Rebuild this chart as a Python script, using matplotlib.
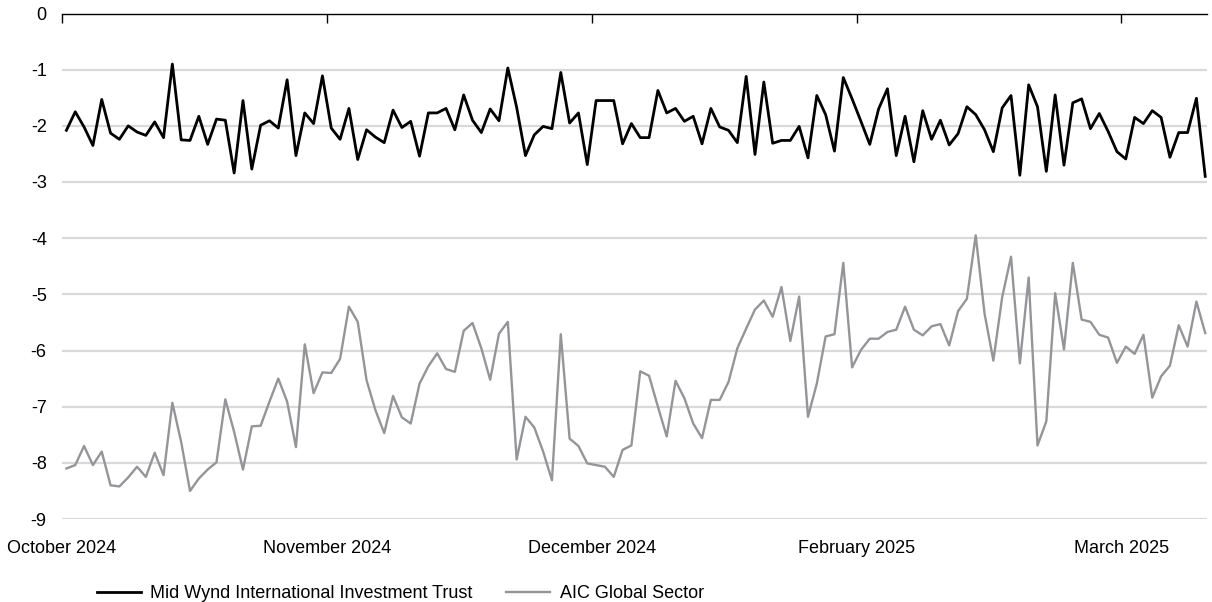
import matplotlib
matplotlib.use("Agg")
import matplotlib.pyplot as plt
import numpy as np

plt.rcParams['font.family'] = ['Liberation Sans', 'DejaVu Sans']
plt.rcParams['axes.unicode_minus'] = False

# discount values
mid_wynd = [
    -2.08, -1.75, -2.02, -2.35, -1.53, -2.13, -2.24, -2.00, -2.11, -2.17,
    -1.93, -2.21, -0.90, -2.25, -2.26, -1.83, -2.33, -1.88, -1.90, -2.84,
    -1.55, -2.77, -1.99, -1.91, -2.04, -1.18, -2.53, -1.77, -1.96, -1.11,
    -2.04, -2.24, -1.69, -2.60, -2.07, -2.20, -2.30, -1.72, -2.03, -1.92,
    -2.54, -1.77, -1.77, -1.69, -2.07, -1.45, -1.90, -2.12, -1.70, -1.91,
    -0.97, -1.67, -2.53, -2.16, -2.01, -2.05, -1.05, -1.95, -1.77, -2.69,
    -1.55, -1.55, -1.55, -2.32, -1.96, -2.21, -2.21, -1.37, -1.77, -1.69,
    -1.92, -1.83, -2.32, -1.69, -2.02, -2.08, -2.30, -1.12, -2.51, -1.22,
    -2.31, -2.26, -2.26, -2.01, -2.57, -1.46, -1.80, -2.45, -1.14, -1.52,
    -1.92, -2.33, -1.70, -1.34, -2.53, -1.83, -2.64, -1.73, -2.24, -1.90,
    -2.34, -2.14, -1.66, -1.80, -2.07, -2.46, -1.68, -1.46, -2.88, -1.27,
    -1.66, -2.81, -1.45, -2.70, -1.59, -1.52, -2.05, -1.78, -2.10, -2.46,
    -2.59, -1.85, -1.96, -1.73, -1.85, -2.56, -2.12, -2.12, -1.51, -2.90,
]
aic_global = [
    -8.10, -8.04, -7.70, -8.04, -7.80, -8.40, -8.42, -8.26, -8.07, -8.25,
    -7.82, -8.22, -6.93, -7.63, -8.50, -8.28, -8.12, -7.99, -6.87, -7.45,
    -8.12, -7.35, -7.34, -6.91, -6.50, -6.91, -7.72, -5.89, -6.76, -6.39,
    -6.40, -6.15, -5.22, -5.49, -6.53, -7.06, -7.47, -6.81, -7.19, -7.30,
    -6.59, -6.28, -6.05, -6.33, -6.38, -5.65, -5.51, -5.96, -6.52, -5.70,
    -5.49, -7.94, -7.18, -7.37, -7.80, -8.31, -5.71, -7.57, -7.70, -8.01,
    -8.04, -8.07, -8.25, -7.77, -7.69, -6.37, -6.45, -7.00, -7.53, -6.54,
    -6.85, -7.30, -7.56, -6.88, -6.88, -6.56, -5.96, -5.61, -5.27, -5.11,
    -5.40, -4.87, -5.83, -5.04, -7.18, -6.59, -5.75, -5.71, -4.44, -6.30,
    -5.99, -5.79, -5.79, -5.67, -5.63, -5.22, -5.63, -5.73, -5.57, -5.53,
    -5.91, -5.30, -5.08, -3.95, -5.34, -6.18, -5.05, -4.33, -6.23, -4.70,
    -7.69, -7.26, -4.98, -5.98, -4.44, -5.45, -5.49, -5.72, -5.77, -6.22,
    -5.93, -6.06, -5.72, -6.84, -6.46, -6.27, -5.55, -5.93, -5.13, -5.69,
]
month_labels = ['October 2024', 'November 2024', 'December 2024',
                'February 2025', 'March 2025']
series_names = ['Mid Wynd International Investment Trust', 'AIC Global Sector']

fig = plt.figure(figsize=(12.12, 6.02), dpi=100)
ax = fig.add_axes([62 / 1212, 1 - 519 / 602, (1207 - 62) / 1212, (519 - 13.5) / 602])

x = np.arange(len(mid_wynd))
ax.plot(x, mid_wynd, color='#000000', lw=2.0, label=series_names[0], zorder=3)
ax.plot(x, aic_global, color='#939598', lw=1.7, label=series_names[1], zorder=2)

ax.set_xlim(-0.5, len(mid_wynd) - 0.8)
ax.set_ylim(-9, 0)

# horizontal gridlines
for v in range(-9, 0):
    ax.axhline(v, color='#d9d9d9', lw=1.6, zorder=1)

for s in ['left', 'right', 'bottom']:
    ax.spines[s].set_visible(False)
ax.spines['top'].set_color('#000000')
ax.spines['top'].set_linewidth(1.0)

ax.set_yticks(range(-9, 1))
ax.set_yticklabels([str(v) for v in range(-9, 1)])
ax.tick_params(axis='y', length=0, pad=11, labelsize=13, labelcolor='#000000')

tick_pos = [-0.5 + 30 * k for k in range(len(month_labels))]
ax.set_xticks(tick_pos)
ax.set_xticklabels(month_labels)
ax.tick_params(axis='x', top=True, bottom=False, direction='in', length=6.5,
               width=1.0, color='#000000', labelbottom=True, labeltop=False,
               pad=15, labelsize=13)

fig.legend(loc='lower left', bbox_to_anchor=(0.0668, -0.027), ncol=2, frameon=False,
           fontsize=13, handlelength=2.4, handletextpad=0.55, columnspacing=1.85)

fig.savefig('out.png', dpi=100)
